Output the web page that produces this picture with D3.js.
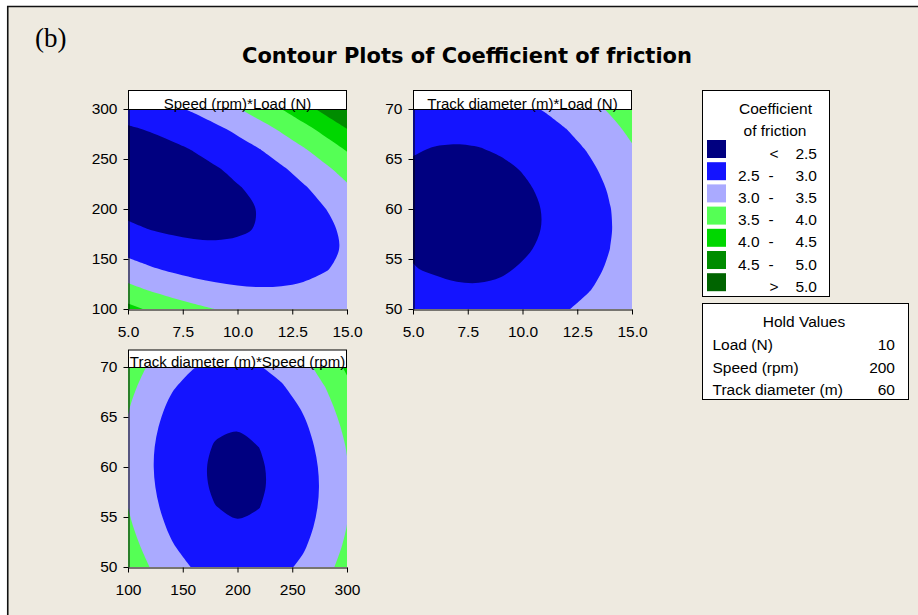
<!DOCTYPE html>
<html>
<head>
<meta charset="utf-8">
<script src="https://cdn.jsdelivr.net/npm/d3@7"></script>
<style>
  html, body { margin: 0; padding: 0; background: #ffffff; }
  svg { display: block; }
  text { font-family: "Liberation Sans", Arial, sans-serif; fill: #000; }
</style>
</head>
<body>
<svg id="chart" width="918" height="615"></svg>
<script>
// Factor levels at which the response surface was sampled
const loadLevels = [5, 6, 7, 8, 9, 10, 11, 12, 13, 14, 15];
const speedLevels = [100, 120, 140, 160, 180, 200, 220, 240, 260, 280, 300];
const diameterLevels = [50, 52, 54, 56, 58, 60, 62, 64, 66, 68, 70];

// Coefficient of friction, one row per level of the vertical factor (lowest level first),
// one column per level of the horizontal factor.
// Speed (rows) x Load (columns), track diameter held at 60
const frictionSpeedLoad = [
  [4.140, 3.933, 3.757, 3.611, 3.495, 3.410, 3.355, 3.331, 3.337, 3.373, 3.440],
  [3.627, 3.450, 3.304, 3.189, 3.104, 3.049, 3.024, 3.030, 3.067, 3.134, 3.231],
  [3.195, 3.049, 2.934, 2.848, 2.794, 2.769, 2.775, 2.812, 2.878, 2.976, 3.103],
  [2.845, 2.730, 2.644, 2.590, 2.565, 2.571, 2.608, 2.674, 2.772, 2.899, 3.057],
  [2.577, 2.492, 2.437, 2.412, 2.418, 2.455, 2.522, 2.619, 2.746, 2.904, 3.093],
  [2.390, 2.335, 2.311, 2.317, 2.353, 2.420, 2.517, 2.645, 2.803, 2.991, 3.210],
  [2.285, 2.260, 2.266, 2.303, 2.370, 2.467, 2.594, 2.752, 2.941, 3.160, 3.409],
  [2.261, 2.267, 2.304, 2.370, 2.468, 2.595, 2.753, 2.942, 3.160, 3.410, 3.689],
  [2.319, 2.356, 2.422, 2.520, 2.647, 2.805, 2.994, 3.212, 3.462, 3.741, 4.051],
  [2.459, 2.526, 2.623, 2.750, 2.908, 3.097, 3.316, 3.565, 3.844, 4.154, 4.495],
  [2.680, 2.777, 2.905, 3.063, 3.251, 3.470, 3.719, 3.999, 4.309, 4.649, 5.020]
];
// Track diameter (rows) x Load (columns), speed held at 200
const frictionDiameterLoad = [
  [2.830, 2.757, 2.715, 2.703, 2.721, 2.770, 2.849, 2.975, 3.115, 3.285, 3.480],
  [2.660, 2.585, 2.540, 2.532, 2.556, 2.633, 2.716, 2.829, 2.972, 3.146, 3.351],
  [2.515, 2.462, 2.430, 2.428, 2.460, 2.529, 2.616, 2.732, 2.880, 3.057, 3.265],
  [2.465, 2.403, 2.372, 2.370, 2.400, 2.459, 2.549, 2.670, 2.820, 3.002, 3.213],
  [2.411, 2.352, 2.324, 2.327, 2.360, 2.423, 2.516, 2.640, 2.795, 2.980, 3.195],
  [2.390, 2.335, 2.311, 2.317, 2.353, 2.420, 2.517, 2.645, 2.803, 2.991, 3.210],
  [2.403, 2.352, 2.331, 2.340, 2.380, 2.451, 2.552, 2.683, 2.844, 3.036, 3.259],
  [2.449, 2.402, 2.384, 2.398, 2.441, 2.515, 2.620, 2.754, 2.920, 3.115, 3.341],
  [2.529, 2.485, 2.472, 2.488, 2.536, 2.613, 2.721, 2.860, 3.028, 3.228, 3.457],
  [2.643, 2.602, 2.592, 2.613, 2.664, 2.745, 2.856, 2.998, 3.171, 3.374, 3.607],
  [2.790, 2.753, 2.747, 2.771, 2.825, 2.910, 3.025, 3.171, 3.347, 3.553, 3.790]
];
// Track diameter (rows) x Speed (columns), load held at 10
const frictionDiameterSpeed = [
  [3.880, 3.495, 3.191, 2.969, 2.829, 2.770, 2.793, 2.897, 3.083, 3.351, 3.700],
  [3.719, 3.338, 3.040, 2.822, 2.687, 2.633, 2.660, 2.770, 2.960, 3.233, 3.587],
  [3.591, 3.216, 2.922, 2.709, 2.578, 2.529, 2.562, 2.676, 2.871, 3.148, 3.507],
  [3.497, 3.126, 2.837, 2.630, 2.504, 2.459, 2.496, 2.615, 2.816, 3.098, 3.461],
  [3.437, 3.071, 2.786, 2.584, 2.462, 2.423, 2.465, 2.588, 2.794, 3.080, 3.449],
  [3.410, 3.049, 2.769, 2.571, 2.455, 2.420, 2.467, 2.595, 2.805, 3.097, 3.470],
  [3.417, 3.060, 2.786, 2.592, 2.481, 2.451, 2.502, 2.636, 2.850, 3.147, 3.525],
  [3.457, 3.106, 2.836, 2.647, 2.540, 2.515, 2.572, 2.710, 2.929, 3.230, 3.613],
  [3.531, 3.184, 2.919, 2.736, 2.634, 2.613, 2.674, 2.817, 3.042, 3.348, 3.735],
  [3.639, 3.297, 3.036, 2.858, 2.760, 2.745, 2.811, 2.958, 3.188, 3.498, 3.891],
  [3.780, 3.443, 3.187, 3.013, 2.921, 2.910, 2.981, 3.133, 3.367, 3.683, 4.080]
];

// Axis ticks
const loadTicks = [5, 7.5, 10, 12.5, 15];
const speedTicks = [100, 150, 200, 250, 300];
const diameterTicks = [50, 55, 60, 65, 70];

// Contour levels and the colour of each band (lowest band first)
const levelBreaks = [2.5, 3.0, 3.5, 4.0, 4.5, 5.0];
const levelColors = ["#000080", "#1414FF", "#AAAAFF", "#55FF55", "#00D700", "#008C00", "#006400"];
const legendRows = [
  ["", "<", "2.5"], ["2.5", "-", "3.0"], ["3.0", "-", "3.5"], ["3.5", "-", "4.0"],
  ["4.0", "-", "4.5"], ["4.5", "-", "5.0"], ["", ">", "5.0"]
];

// Settings of the factor that is not shown in each panel
const holdFactors = ["Load (N)", "Speed (rpm)", "Track diameter (m)"];
const holdSettings = [10, 200, 60];

const svg = d3.select("#chart");

// Page background with its frame lines
svg.append("rect").attr("x", 8).attr("y", 6.5).attr("width", 910).attr("height", 609)
  .attr("fill", "#EEEAE0");
svg.append("path").attr("d", "M7.75,615 V6.5 H918")
  .attr("fill", "none").attr("stroke", "#111").attr("stroke-width", 1.6);

svg.append("text").attr("x", 35).attr("y", 47)
  .style("font-family", "'Liberation Serif', 'Times New Roman', serif")
  .style("font-size", "27px").text("(b)");

svg.append("text").attr("x", 467).attr("y", 63).attr("text-anchor", "middle")
  .style("font-family", "'DejaVu Sans', sans-serif").style("font-weight", "bold")
  .style("font-size", "21px").text("Contour Plots of Coefficient of friction");

const panels = [
  { label: "Speed (rpm)*Load (N)", xLevels: loadLevels, yLevels: speedLevels,
    grid: frictionSpeedLoad, xTicks: loadTicks, yTicks: speedTicks, xFmt: d3.format(".1f"),
    left: 128, top: 109, width: 219, height: 200, headerTop: 90 },
  { label: "Track diameter (m)*Load (N)", xLevels: loadLevels, yLevels: diameterLevels,
    grid: frictionDiameterLoad, xTicks: loadTicks, yTicks: diameterTicks, xFmt: d3.format(".1f"),
    left: 413, top: 109, width: 219, height: 200, headerTop: 90 },
  { label: "Track diameter (m)*Speed (rpm)", xLevels: speedLevels, yLevels: diameterLevels,
    grid: frictionDiameterSpeed, xTicks: speedTicks, yTicks: diameterTicks, xFmt: d3.format("d"),
    left: 128, top: 367, width: 219, height: 200, headerTop: 349.5 }
];

const defs = svg.append("defs");
const closedCurve = d3.line().curve(d3.curveCatmullRomClosed.alpha(0.5));
const openCurve = d3.line().curve(d3.curveCatmullRom.alpha(0.5));

// Turns one contour ring into a path: stretches that run along the plot edge stay straight,
// the iso-lines in between are drawn as smooth curves.
function ringPath(ring, nx, ny, toPx) {
  const lo = 0.5, hiX = nx - 0.5, hiY = ny - 0.5;
  let pts = ring.slice(0, -1).map(([a, b]) =>
    [Math.min(hiX, Math.max(lo, a)), Math.min(hiY, Math.max(lo, b))]);
  pts = pts.filter((p, i) => {
    const q = pts[(i + pts.length - 1) % pts.length];
    return p[0] !== q[0] || p[1] !== q[1];
  });
  if (pts.length < 3) return "";
  const onEdge = p => p[0] === lo || p[0] === hiX || p[1] === lo || p[1] === hiY;
  const start = pts.findIndex(onEdge);
  if (start < 0) return closedCurve(pts.map(toPx));
  const seq = pts.slice(start).concat(pts.slice(0, start));
  seq.push(seq[0]);
  let d = "M" + toPx(seq[0]).join(",");
  let run = [seq[0]];
  for (let i = 1; i < seq.length; i++) {
    const p = seq[i];
    run.push(p);
    if (onEdge(p)) {
      if (run.length === 2) d += "L" + toPx(p).join(",");
      else d += openCurve(run.map(toPx)).replace(/^M[^LCZ]*/, "");
      run = [p];
    }
  }
  return d + "Z";
}

panels.forEach((p, k) => {
  const x = d3.scaleLinear().domain(d3.extent(p.xLevels)).range([p.left, p.left + p.width]);
  const y = d3.scaleLinear().domain(d3.extent(p.yLevels)).range([p.top + p.height, p.top]);
  const nx = p.xLevels.length, ny = p.yLevels.length;
  const xStep = p.xLevels[1] - p.xLevels[0];
  const yStep = p.yLevels[1] - p.yLevels[0];

  // grid cell centres sit at half-integer contour coordinates
  const toPx = pt => [x(p.xLevels[0] + (pt[0] - 0.5) * xStep),
                      y(p.yLevels[0] + (pt[1] - 0.5) * yStep)];

  const bands = d3.contours().size([nx, ny]).thresholds(levelBreaks)(p.grid.flat());

  const clipId = "plot-clip-" + k;
  defs.append("clipPath").attr("id", clipId).append("rect")
    .attr("x", p.left).attr("y", p.top).attr("width", p.width).attr("height", p.height);

  const g = svg.append("g").attr("clip-path", `url(#${clipId})`);
  g.append("rect").attr("x", p.left).attr("y", p.top)
    .attr("width", p.width).attr("height", p.height).attr("fill", levelColors[0]);

  bands.forEach((band, i) => {
    if (!band.coordinates.length) return;
    const d = band.coordinates
      .flatMap(poly => poly.map(ring => ringPath(ring, nx, ny, toPx)))
      .join("");
    g.append("path").attr("d", d).attr("fill", levelColors[i + 1])
      .attr("fill-rule", "evenodd");
  });

  // Panel heading box
  svg.append("rect").attr("x", p.left + 0.5).attr("y", p.headerTop + 0.5)
    .attr("width", p.width - 1).attr("height", p.top - p.headerTop)
    .attr("fill", "#fff").attr("stroke", "#000").attr("stroke-width", 1);
  svg.append("text").attr("x", p.left + p.width / 2).attr("y", p.top - 0.5)
    .attr("text-anchor", "middle").style("font-size", "15px").text(p.label);

  // Axes
  const gx = svg.append("g").attr("transform", `translate(0,${p.top + p.height + 0.5})`)
    .call(d3.axisBottom(x).tickValues(p.xTicks).tickFormat(p.xFmt)
      .tickSize(5).tickSizeOuter(0));
  gx.selectAll("text").attr("dy", null).attr("y", 27).style("font-size", "15.5px")
    .style("font-family", "'Liberation Sans', Arial, sans-serif");

  const gy = svg.append("g").attr("transform", `translate(${p.left + 0.5},0)`)
    .call(d3.axisLeft(y).tickValues(p.yTicks).tickFormat(d3.format("d"))
      .tickSize(5).tickSizeOuter(0).tickPadding(6));
  gy.selectAll("text").style("font-size", "15.5px")
    .style("font-family", "'Liberation Sans', Arial, sans-serif");

  [gx, gy].forEach(a => {
    a.select(".domain").attr("stroke", "#000");
    a.selectAll(".tick line").attr("stroke", "#000");
    a.selectAll(".tick text").attr("fill", "#000");
  });
});

// Colour key
const key = svg.append("g");
key.append("rect").attr("x", 702.5).attr("y", 90.5).attr("width", 127).attr("height", 206)
  .attr("fill", "#fff").attr("stroke", "#000");
key.append("text").attr("x", 775.5).attr("y", 114).attr("text-anchor", "middle")
  .style("font-size", "15.5px").text("Coefficient");
key.append("text").attr("x", 775).attr("y", 135.5).attr("text-anchor", "middle")
  .style("font-size", "15.5px").text("of friction");

const keyRow = d3.scaleLinear().domain([0, 1]).range([140, 162.2]);
legendRows.forEach((row, i) => {
  key.append("rect").attr("x", 707).attr("y", keyRow(i)).attr("width", 19).attr("height", 18)
    .attr("fill", levelColors[i]);
  const base = keyRow(i) + 18.5;
  key.append("text").attr("x", 738).attr("y", base).style("font-size", "15.5px").text(row[0]);
  key.append("text").attr("x", row[1] === "-" ? 771 : 774).attr("y", base)
    .attr("text-anchor", "middle").style("font-size", "15.5px").text(row[1]);
  key.append("text").attr("x", 817).attr("y", base).attr("text-anchor", "end")
    .style("font-size", "15.5px").text(row[2]);
});

// Hold values table
const hold = svg.append("g");
hold.append("rect").attr("x", 702.5).attr("y", 303.5).attr("width", 206).attr("height", 96)
  .attr("fill", "#fff").attr("stroke", "#000");
hold.append("text").attr("x", 804).attr("y", 326.5).attr("text-anchor", "middle")
  .style("font-size", "15.5px").text("Hold Values");
const holdRow = d3.scaleLinear().domain([0, 1]).range([350, 372.5]);
holdFactors.forEach((f, i) => {
  hold.append("text").attr("x", 712.5).attr("y", holdRow(i)).style("font-size", "15.5px").text(f);
  hold.append("text").attr("x", 895).attr("y", holdRow(i)).attr("text-anchor", "end")
    .style("font-size", "15.5px").text(holdSettings[i]);
});
</script>
</body>
</html>
